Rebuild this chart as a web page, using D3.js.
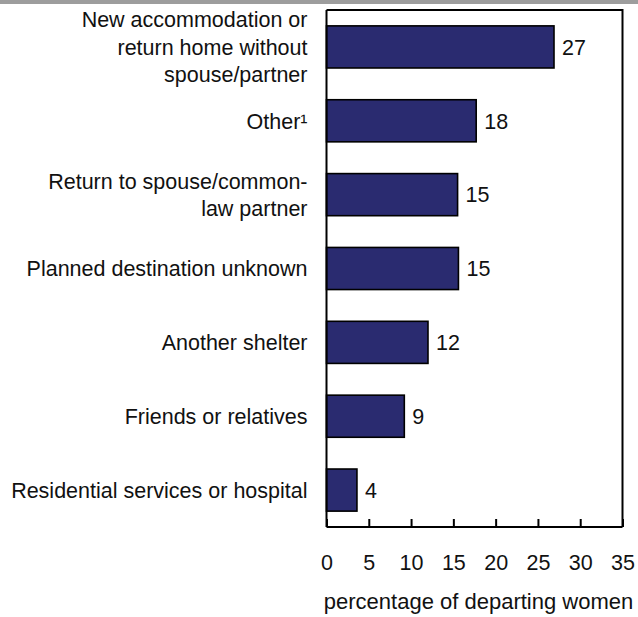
<!DOCTYPE html>
<html>
<head>
<meta charset="utf-8">
<script src="https://cdn.jsdelivr.net/npm/d3@7"></script>
<style>
  body { margin: 0; background: #fff; }
  svg text { font-family: "Liberation Sans", Arial, Helvetica, sans-serif; fill: #111; }
</style>
</head>
<body>
<svg width="638" height="617"></svg>
<script>
'use strict';

// destinations, top to bottom
var categories = [
	["New accommodation or", "return home without", "spouse/partner"],
	["Other\u00B9"],
	["Return to spouse/common-", "law partner"],
	["Planned destination unknown"],
	["Another shelter"],
	["Friends or relatives"],
	["Residential services or hospital"]
];
var values = [26.9, 17.7, 15.5, 15.6, 12.0, 9.2, 3.6];   // bar lengths
var valueLabels = ["27", "18", "15", "15", "12", "9", "4"];
var xTicks = [0, 5, 10, 15, 20, 25, 30, 35];
var xTitle = "percentage of departing women";

var fontSize = "21.5px";

var svg = d3.select("svg");
var margin = {top: 10, right: 15.5, bottom: 90, left: 326.5};
var width = +svg.attr("width") - margin.left - margin.right,
	height = +svg.attr("height") - margin.top - margin.bottom;

// grey strip along the top
svg.append("rect")
	.attr("x", 0).attr("y", 0)
	.attr("width", 638).attr("height", 4)
	.attr("fill", "#9d9d9d");

var g = svg.append("g")
	.attr("transform", "translate(" + margin.left + "," + margin.top + ")");

var x = d3.scaleLinear().domain([0, 35]).range([0, width]);
var y = d3.scaleBand().domain(d3.range(values.length)).range([0, height]).paddingInner(0.43).paddingOuter(0.215);

// bars
g.selectAll(".bar")
	.data(values)
	.enter().append("rect")
	.attr("class", "bar")
	.attr("x", 0)
	.attr("y", function(d, i) { return y(i); })
	.attr("width", function(d) { return x(d); })
	.attr("height", y.bandwidth())
	.attr("fill", "#2a2b70")
	.attr("stroke", "#000")
	.attr("stroke-width", 1.6);

// value labels
g.selectAll(".val")
	.data(values)
	.enter().append("text")
	.attr("class", "val")
	.attr("x", function(d) { return x(d) + 8; })
	.attr("y", function(d, i) { return y(i) + y.bandwidth() / 2; })
	.attr("dy", "0.36em")
	.style("font-size", fontSize)
	.text(function(d, i) { return valueLabels[i]; });

// category labels (multi-line)
var lineH = 27.5;
categories.forEach(function(lines, i) {
	var cy = y(i) + y.bandwidth() / 2;
	var t = g.append("text")
		.attr("text-anchor", "end")
		.style("font-size", fontSize);
	lines.forEach(function(l, j) {
		t.append("tspan")
			.attr("x", -19)
			.attr("y", cy + (j - (lines.length - 1) / 2) * lineH)
			.attr("dy", "0.36em")
			.text(l);
	});
});

// frame: top and right
g.append("path")
	.attr("d", "M0,0H" + width + "V" + height)
	.attr("fill", "none")
	.attr("stroke", "#000")
	.attr("stroke-width", 2);

// left axis line
g.append("line")
	.attr("x1", 0).attr("x2", 0)
	.attr("y1", 0).attr("y2", height)
	.attr("stroke", "#000")
	.attr("stroke-width", 2);

// bottom axis, ticks point up into the plot
var xAxis = d3.axisBottom(x)
	.tickValues(xTicks)
	.tickSize(-8)
	.tickPadding(28)
	.tickFormat(d3.format("d"));

var ax = g.append("g")
	.attr("transform", "translate(0," + height + ")")
	.call(xAxis);
ax.select(".domain").attr("stroke", "#000").attr("stroke-width", 2).attr("d", "M0,0H" + width);
ax.selectAll(".tick line").attr("stroke", "#000").attr("stroke-width", 2);
ax.selectAll(".tick text")
	.style("font-size", fontSize)
	.style("font-family", "Liberation Sans, Arial, sans-serif")
	.attr("fill", "#111");

g.append("text")
	.attr("x", width / 2 + 4)
	.attr("y", height + 82)
	.attr("text-anchor", "middle")
	.style("font-size", "22px")
	.text(xTitle);
</script>
</body>
</html>
